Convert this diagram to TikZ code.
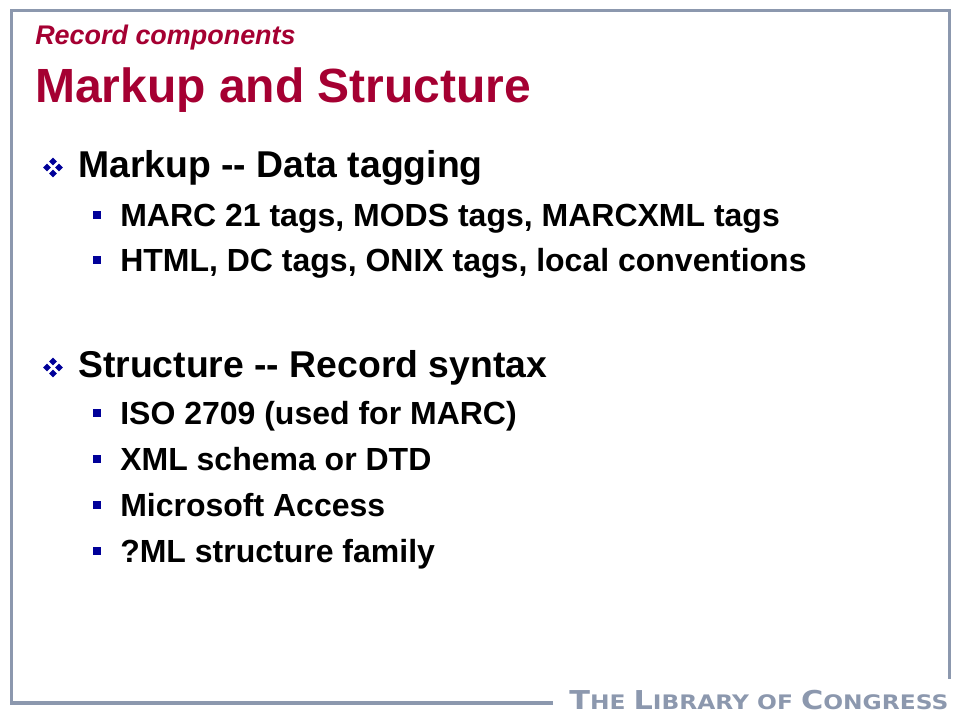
\documentclass[tikz,border=0pt]{standalone}
\usepackage{fontspec}
\usetikzlibrary{shapes.geometric}
\setmainfont{Liberation Sans}
\newfontfamily\logofont{DejaVu Sans}
\definecolor{titlered}{HTML}{A50032}
\definecolor{bulletblue}{HTML}{000099}
\definecolor{framegrey}{HTML}{8C98AE}
\definecolor{logogrey}{HTML}{8C98AE}
\begin{document}
\begin{tikzpicture}[x=0.75pt,y=-0.75pt]
        \tikzstyle{every node}=[inner sep=0pt,anchor=base west,font=\bfseries]
        \tikzstyle{kicker}=[text=titlered,font=\fontsize{20.2}{24}\selectfont\bfseries\itshape]
        \tikzstyle{slidetitle}=[text=titlered,font=\fontsize{36}{40}\selectfont\bfseries]
        \tikzstyle{firstlevel}=[font=\fontsize{28}{32}\selectfont\bfseries]
        \tikzstyle{secondlevel}=[font=\fontsize{24}{28}\selectfont\bfseries]
        \tikzstyle{bigbullet}=[fill=bulletblue,draw=none,shape=diamond,minimum size=6pt,anchor=center]
        \tikzstyle{smallbullet}=[fill=bulletblue,rectangle,minimum size=6pt,anchor=center]
        \useasboundingbox (0,0) rectangle (960,720);
        % frame
        \draw[framegrey,line width=2.6pt] (553,703) -- (11.5,703) -- (11.5,10.5) -- (949.5,10.5) -- (949.5,679);
        % headings
        \node[kicker] (kicker) at (35,45) {Record components};
        \node[slidetitle] (title) at (35,103) {Markup and Structure};
        % first block
        \node[firstlevel] (markup) at (78,178) {Markup -{}- Data tagging};
        \node[secondlevel] (tags) at (120,227) {MARC 21 tags, MODS tags, MARCXML tags};
        \node[secondlevel] (html) at (120,272) {HTML, DC tags, ONIX tags, local conventions};
        % second block
        \node[firstlevel] (structure) at (78,377) {Structure -{}- Record syntax};
        \node[secondlevel] (iso) at (120,424) {ISO 2709 (used for MARC)};
        \node[secondlevel] (xml) at (120,470) {XML schema or DTD};
        \node[secondlevel] (access) at (120,516) {Microsoft Access};
        \node[secondlevel] (family) at (120,562) {?ML structure family};
        % bullets
        \foreach \name/\ypos in {markup/167.5,structure/367.5}
          \foreach \dx/\dy in {0/-6,6/0,0/6,-6/0}
            \node[bigbullet] (\name\dx\dy) at (53+\dx,\ypos+\dy) {};
        \foreach \name/\ypos in {tags/215,html/260,iso/413,xml/459,access/505,family/551}
          \node[smallbullet] (dot\name) at (96.5,\ypos) {};
        % logo
        \node[text=logogrey,font=\logofont\bfseries,xscale=1.167,transform shape] (logo) at (569,709)
          {\fontsize{19.5}{20}\selectfont T\fontsize{15}{20}\selectfont HE \fontsize{19.5}{20}\selectfont L\fontsize{15}{20}\selectfont IBRARY OF \fontsize{19.5}{20}\selectfont C\fontsize{15}{20}\selectfont ONGRESS};
\end{tikzpicture}
\end{document}
